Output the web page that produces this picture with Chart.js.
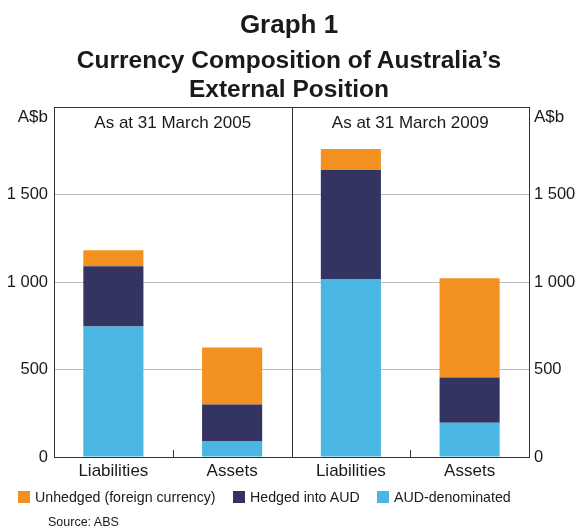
<!DOCTYPE html>
<html>
<head>
<meta charset="utf-8">
<script src="https://cdn.jsdelivr.net/npm/chart.js@4"></script>
<style>
  body { margin: 0; background: #fff; font-family: "Liberation Sans", Arial, sans-serif; color: #1a1a1a; }
  #wrap { position: relative; width: 578px; height: 529px; }
  #chart { position: absolute; left: 0; top: 0; }
  .t { position: absolute; left: 0; width: 578px; text-align: center; font-weight: bold; white-space: nowrap; }
  .leg { position: absolute; top: 488px; font-size: 14.2px; line-height: 18px; white-space: nowrap; }
  .leg span { display: inline-block; width: 12px; height: 12px; margin-right: 5px; vertical-align: -1px; }
  #src { position: absolute; left: 48px; top: 515px; font-size: 12.5px; }
</style>
</head>
<body>
<div id="wrap">
  <canvas id="chart" width="578" height="529"></canvas>
  <div class="t" style="top:9px;font-size:26px;line-height:30px;">Graph 1</div>
  <div class="t" style="top:45px;font-size:24.5px;line-height:29px;">Currency Composition of Australia’s<br>External Position</div>
  <div class="leg" style="left:18px;"><span style="background:#F39120"></span>Unhedged (foreign currency)</div>
  <div class="leg" style="left:233px;"><span style="background:#333462"></span>Hedged into AUD</div>
  <div class="leg" style="left:377px;"><span style="background:#49B6E3"></span>AUD-denominated</div>
  <div id="src">Source: ABS</div>
</div>
<script>
const categories = ['Liabilities', 'Assets', 'Liabilities', 'Assets'];
const audDenominated = [746, 88, 1015, 196];
const hedgedIntoAud = [344, 212, 625, 259];
const unhedged = [92, 326, 120, 566];
const panelLabels = ['As at 31 March 2005', 'As at 31 March 2009'];
const yMax = 2000;
const yStep = 500;

const fontFam = '"Liberation Sans", Arial, sans-serif';

const fmt = (v) => v === yMax ? '' : String(v).replace(/\B(?=(\d{3})+(?!\d))/g, ' ');

// panel box, divider, small ticks and labels
const panelPlugin = {
    id: 'panels',
    afterDraw(chart) {
        const { ctx, chartArea: a, scales } = chart;
        const x = scales.x;
        const mid = (x.getPixelForValue(1) + x.getPixelForValue(2)) / 2;
        ctx.save();
        ctx.strokeStyle = '#333';
        ctx.lineWidth = 1;
        ctx.strokeRect(Math.round(a.left) + 0.5, Math.round(a.top) + 0.5, Math.round(a.width), Math.round(a.height));
        ctx.beginPath();
        ctx.moveTo(Math.round(mid) + 0.5, a.top);
        ctx.lineTo(Math.round(mid) + 0.5, a.bottom);
        ctx.stroke();
        [[0, 1], [2, 3]].forEach(([i, j]) => {
            const tx = Math.round((x.getPixelForValue(i) + x.getPixelForValue(j)) / 2) + 0.5;
            ctx.beginPath();
            ctx.moveTo(tx, a.bottom);
            ctx.lineTo(tx, a.bottom - 7);
            ctx.stroke();
        });
        ctx.fillStyle = '#1a1a1a';
        ctx.font = '17px ' + fontFam;
        ctx.textAlign = 'center';
        ctx.textBaseline = 'middle';
        ctx.fillText(panelLabels[0], (a.left + mid) / 2, a.top + 16);
        ctx.fillText(panelLabels[1], (mid + a.right) / 2, a.top + 16);
        ctx.textAlign = 'right';
        ctx.fillText('A$b', a.left - 6, a.top + 10);
        ctx.textAlign = 'left';
        ctx.fillText('A$b', a.right + 5, a.top + 10);
        ctx.restore();
    }
};

new Chart(document.getElementById('chart'), {
    type: 'bar',
    data: {
        labels: categories,
        datasets: [
            { label: 'AUD-denominated', data: audDenominated, backgroundColor: '#49B6E3' },
            { label: 'Hedged into AUD', data: hedgedIntoAud, backgroundColor: '#333462' },
            { label: 'Unhedged (foreign currency)', data: unhedged, backgroundColor: '#F39120' },
        ],
    },
    options: {
        responsive: false,
        animation: false,
        layout: { padding: { top: 107, left: 0, right: 0, bottom: 0 } },
        datasets: { bar: { categoryPercentage: 1, barPercentage: 0.506 } },
        plugins: { legend: { display: false }, tooltip: { enabled: false } },
        scales: {
            x: {
                stacked: true,
                grid: { display: false, drawTicks: false },
                border: { display: false },
                ticks: { color: '#1a1a1a', font: { size: 17, family: fontFam }, padding: 4 },
                afterFit: (s) => { s.height = 72; },
            },
            y: {
                stacked: true,
                min: 0, max: yMax,
                grid: {
                    drawTicks: false,
                    color: (c) => (c.tick.value === 0 || c.tick.value === yMax) ? 'rgba(0,0,0,0)' : '#bdbdbd',
                },
                border: { display: false },
                ticks: { stepSize: yStep, callback: fmt, color: '#1a1a1a', font: { size: 16.5, family: fontFam }, padding: 6 },
                afterFit: (s) => { s.width = 54; },
            },
            y2: {
                position: 'right',
                min: 0, max: yMax,
                grid: { display: false, drawTicks: false },
                border: { display: false },
                ticks: { stepSize: yStep, callback: fmt, color: '#1a1a1a', font: { size: 16.5, family: fontFam }, padding: 5 },
                afterFit: (s) => { s.width = 49; },
            },
        },
    },
    plugins: [panelPlugin],
});
</script>
</body>
</html>
